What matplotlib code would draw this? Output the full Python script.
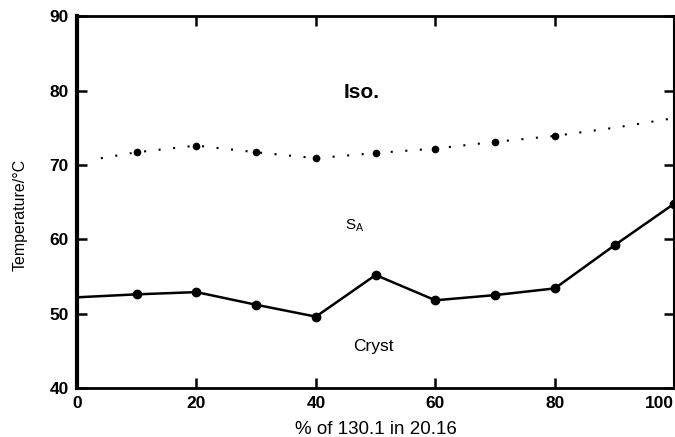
import numpy as np
import matplotlib
matplotlib.use("Agg")
import matplotlib.pyplot as plt

plt.rcParams['font.family'] = ['Liberation Sans', 'DejaVu Sans']

# Cryst -> S_A transition (solid line)
x_solid = [0, 10, 20, 30, 40, 50, 60, 70, 80, 90, 100]
y_solid = [52.2, 52.6, 52.9, 51.2, 49.6, 55.2, 51.8, 52.5, 53.4, 59.2, 64.8]

# S_A -> Iso transition (dotted line)
x_dot = [4, 10, 20, 30, 40, 50, 60, 70, 80, 90, 100]
y_dot = [70.9, 71.7, 72.6, 71.7, 70.9, 71.6, 72.2, 73.1, 73.9, 75.0, 76.3]
x_dot_marked = [10, 20, 30, 40, 50, 60, 70, 80]
y_dot_marked = [71.7, 72.6, 71.7, 70.9, 71.6, 72.2, 73.1, 73.9]

fig = plt.figure(figsize=(6.75, 4.37), dpi=100, facecolor='white')
ax = fig.add_axes([0.114, 0.112, 0.885, 0.851])

ax.plot(x_solid, y_solid, color='black', linewidth=1.8)
ax.plot(x_solid[1:], y_solid[1:], 'o', color='black', markersize=6)

ax.plot(x_dot, y_dot, color='black', linewidth=1.5, linestyle=(0, (1, 6)))
ax.plot(x_dot_marked, y_dot_marked, 'o', color='black', markersize=4.5)

ax.text(44.6, 79.8, 'Iso.', fontsize=15, fontweight='bold', ha='left', va='center')
ax.text(44.9, 61.9, r'S$_\mathregular{A}$', fontsize=11, ha='left', va='center')
ax.text(46.2, 45.6, 'Cryst', fontsize=12.5, ha='left', va='center')

ax.set_xlim(0, 100)
ax.set_ylim(40, 90)
ax.set_xticks([0, 20, 40, 60, 80, 100])
ax.set_yticks([40, 50, 60, 70, 80, 90])
ax.tick_params(direction='in', length=7, width=1.8, top=True, right=True,
               labelsize=12.5, pad=6)
for lab in ax.get_xticklabels() + ax.get_yticklabels():
    lab.set_fontweight('bold')
ax.get_xticklabels()[-1].set_ha('right')

ax.spines['left'].set_linewidth(3)
ax.spines['bottom'].set_linewidth(2)
ax.spines['top'].set_linewidth(2)
ax.spines['right'].set_linewidth(1.5)

ax.set_xlabel('% of 130.1 in 20.16', fontsize=13.5, va='top')
ax.xaxis.set_label_coords(0.5, -0.089)
ax.set_ylabel('Temperature/°C', fontsize=11.5)
ax.yaxis.set_label_coords(-0.082, 0.465)

fig.savefig('out.png', dpi=100, facecolor='white')
